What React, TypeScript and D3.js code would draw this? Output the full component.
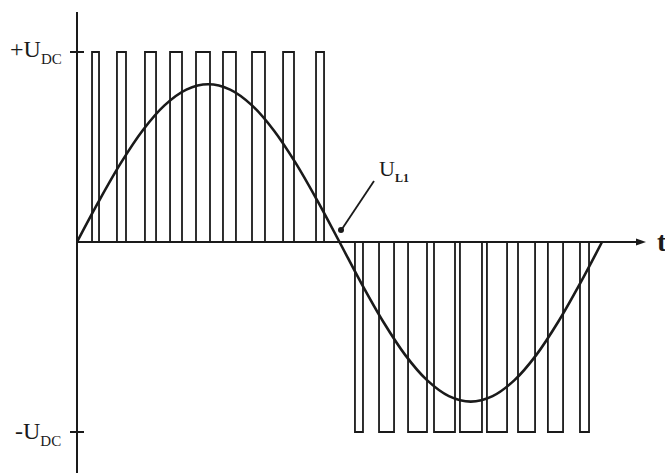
import React from "react";
import * as d3 from "d3";

// Pulse edges in electrical degrees
const posPulses: [number, number][] = [
  [10.3, 15.1], [27.4, 33.6], [46.6, 54.2], [63.8, 72.0], [81.6, 91.2],
  [100.1, 109.0], [120.0, 128.9], [141.3, 148.8], [163.9, 169.4],
];
const negPulses: [number, number][] = [
  [190.6, 196.1], [207.1, 217.4], [227.0, 240.0], [244.8, 259.2], [262.6, 277.7],
  [281.1, 294.9], [302.4, 314.1], [322.9, 333.3], [344.9, 351.1],
];
const fundAngles = [0, 15, 30, 45, 60, 75, 90, 105, 120, 135, 150, 165, 180,
  195, 210, 225, 240, 255, 270, 285, 300, 315, 330, 345, 360];
const fundValues = [0, 0.215, 0.415, 0.587, 0.719, 0.802, 0.83, 0.802, 0.719, 0.587, 0.415, 0.215, 0,
  -0.218, -0.42, -0.594, -0.727, -0.811, -0.84, -0.811, -0.727, -0.594, -0.42, -0.218, 0];
const yTickLabels = ["+U", "-U"];

export default function App() {
  const W = 665, H = 473;
  const x = d3.scaleLinear().domain([0, 360]).range([77, 602]);
  const y = d3.scaleLinear().domain([-1, 1]).range([432, 52]);
  const y0 = y(0);
  const ink = "#1a1a1a";

  const pulsePath = (p: [number, number], level: number) => {
    const path = d3.path();
    path.moveTo(x(p[0]), y0);
    path.lineTo(x(p[0]), y(level));
    path.lineTo(x(p[1]), y(level));
    path.lineTo(x(p[1]), y0);
    return path.toString();
  };

  const line = d3
    .line<number>()
    .x((_, i) => x(fundAngles[i]))
    .y((d) => y(d))
    .curve(d3.curveCatmullRom);

  const serif = "'Liberation Serif', 'DejaVu Serif', serif";

  return (
    <svg width={W} height={H} style={{ position: "absolute", left: 0, top: 0, background: "#fff" }}>
      {/* pulses */}
      {posPulses.map((p, i) => (
        <path key={"p" + i} d={pulsePath(p, 1)} fill="none" stroke={ink} strokeWidth={1.8} />
      ))}
      {negPulses.map((p, i) => (
        <path key={"n" + i} d={pulsePath(p, -1)} fill="none" stroke={ink} strokeWidth={1.8} />
      ))}
      {/* axes */}
      <line x1={x(0)} y1={12} x2={x(0)} y2={H} stroke={ink} strokeWidth={2} />
      <line x1={x(0)} y1={y0} x2={642} y2={y0} stroke={ink} strokeWidth={2.2} />
      <path d={`M646,${y0} L636,${y0 - 3.5} L636,${y0 + 3.5} Z`} fill={ink} />
      {/* ticks */}
      <line x1={x(0) - 7} y1={y(1)} x2={x(0) + 7} y2={y(1)} stroke={ink} strokeWidth={2} />
      <line x1={x(0) - 7} y1={y(-1)} x2={x(0) + 7} y2={y(-1)} stroke={ink} strokeWidth={2} />
      {/* fundamental */}
      <path d={line(fundValues) || ""} fill="none" stroke={ink} strokeWidth={2.6} />
      {/* leader for U_L1 */}
      <line x1={374} y1={181} x2={342} y2={229} stroke={ink} strokeWidth={1.8} />
      <circle cx={341} cy={230} r={3} fill={ink} />
      {/* labels */}
      <text x={10} y={y(1) + 5} fontFamily={serif} fontSize={24} fill={ink}>
        {yTickLabels[0]}
        <tspan fontSize={15} dy={7}>DC</tspan>
      </text>
      <text x={15} y={y(-1) + 7} fontFamily={serif} fontSize={24} fill={ink}>
        {yTickLabels[1]}
        <tspan fontSize={15} dy={7}>DC</tspan>
      </text>
      <text x={379} y={176} fontFamily={serif} fontSize={22} fill={ink}>
        U
        <tspan fontSize={12} dy={6} fontWeight="bold">L1</tspan>
      </text>
      <text x={657} y={251} fontFamily={serif} fontSize={28} fontWeight="bold" fill={ink}>t</text>
    </svg>
  );
}
